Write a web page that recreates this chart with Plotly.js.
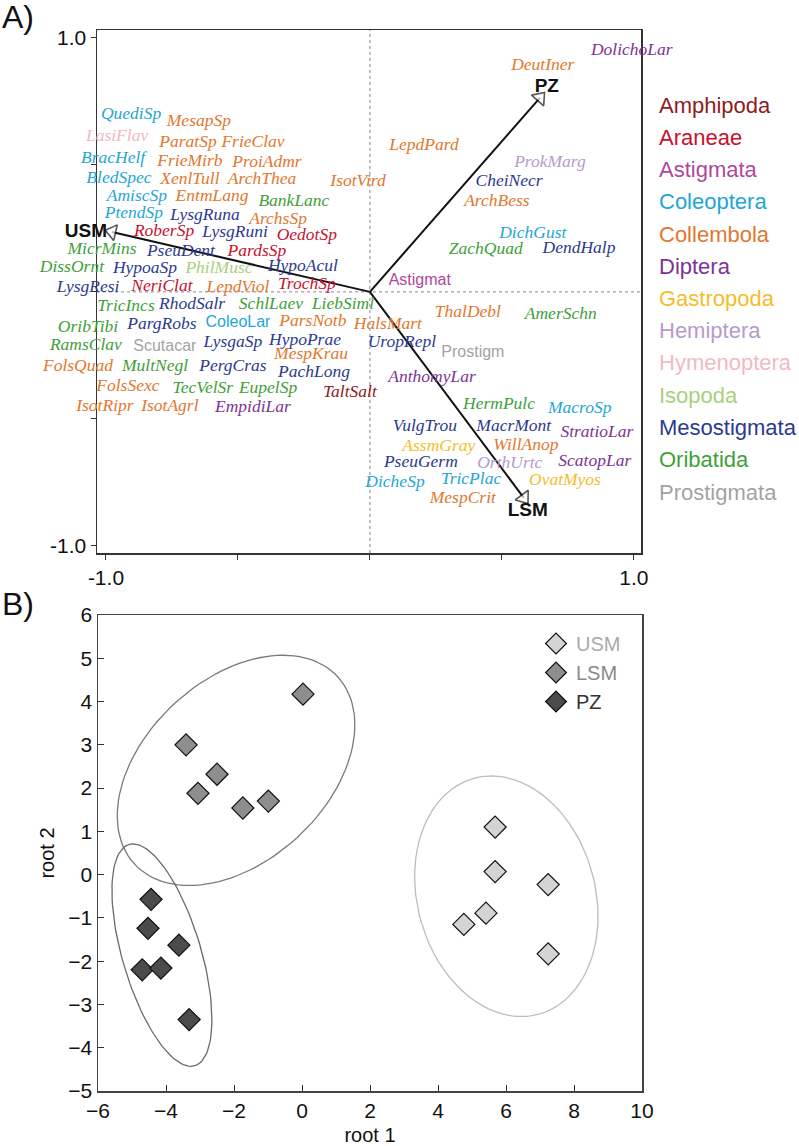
<!DOCTYPE html>
<html>
<head>
<meta charset="utf-8">
<script src="https://cdn.plot.ly/plotly-3.0.1.min.js"></script>
<style>
body { margin: 0; background: #fff; }
#chart { width: 799px; height: 1146px; }
</style>
</head>
<body>
<div id="chart"></div>
<script>
// ---- panel A: taxa (legend on the right) ----
var taxa = ['Amphipoda', 'Araneae', 'Astigmata', 'Coleoptera', 'Collembola', 'Diptera',
    'Gastropoda', 'Hemiptera', 'Hymenoptera', 'Isopoda', 'Mesostigmata', 'Oribatida', 'Prostigmata'];
var taxonColors = ['#8e1b22', '#c8102e', '#b0479a', '#1ea6d6', '#e2772e', '#7d3395',
    '#f4bd2a', '#b49ccb', '#f3b9c3', '#a9d07b', '#2b3a8f', '#3f9f3a', '#a3a3a3'];

// species scores (label centres)
var species = ['QuediSp', 'MesapSp', 'LasiFlav', 'ParatSp', 'FrieClav', 'BracHelf', 'FrieMirb', 'ProiAdmr',
    'BledSpec', 'XenlTull', 'ArchThea', 'IsotVird', 'AmiscSp', 'EntmLang', 'BankLanc', 'PtendSp',
    'LysgRuna', 'ArchsSp', 'RoberSp', 'LysgRuni', 'OedotSp', 'MicrMins', 'PseuDent', 'PardsSp',
    'DissOrnt', 'HypoaSp', 'PhilMusc', 'HypoAcul', 'LysgResi', 'NeriClat', 'LepdViol', 'TrochSp',
    'TricIncs', 'RhodSalr', 'SchlLaev', 'LiebSiml', 'OribTibi', 'PargRobs', 'ColeoLar', 'ParsNotb',
    'HalsMart', 'RamsClav', 'Scutacar', 'LysgaSp', 'HypoPrae', 'MespKrau', 'FolsQuad', 'MultNegl',
    'PergCras', 'PachLong', 'FolsSexc', 'TecVelSr', 'EupelSp', 'TaltSalt', 'IsotRipr', 'IsotAgrl',
    'EmpidiLar', 'DolichoLar', 'DeutIner', 'LepdPard', 'ProkMarg', 'CheiNecr', 'ArchBess', 'DichGust',
    'ZachQuad', 'DendHalp', 'Astigmat', 'ThalDebl', 'AmerSchn', 'UropRepl', 'Prostigm', 'AnthomyLar',
    'HermPulc', 'MacroSp', 'VulgTrou', 'MacrMont', 'StratioLar', 'AssmGray', 'WillAnop', 'PseuGerm',
    'OrthUrtc', 'ScatopLar', 'DicheSp', 'TricPlac', 'OvatMyos', 'MespCrit'];
var speciesTaxon = ['Coleoptera', 'Collembola', 'Hymenoptera', 'Collembola', 'Collembola', 'Coleoptera', 'Collembola', 'Collembola',
    'Coleoptera', 'Collembola', 'Collembola', 'Collembola', 'Coleoptera', 'Collembola', 'Oribatida', 'Coleoptera',
    'Mesostigmata', 'Collembola', 'Araneae', 'Mesostigmata', 'Araneae', 'Oribatida', 'Mesostigmata', 'Araneae',
    'Oribatida', 'Mesostigmata', 'Isopoda', 'Mesostigmata', 'Mesostigmata', 'Araneae', 'Collembola', 'Araneae',
    'Oribatida', 'Mesostigmata', 'Oribatida', 'Oribatida', 'Oribatida', 'Mesostigmata', 'Coleoptera', 'Collembola',
    'Collembola', 'Oribatida', 'Prostigmata', 'Mesostigmata', 'Mesostigmata', 'Collembola', 'Collembola', 'Oribatida',
    'Mesostigmata', 'Mesostigmata', 'Collembola', 'Oribatida', 'Oribatida', 'Amphipoda', 'Collembola', 'Collembola',
    'Diptera', 'Diptera', 'Collembola', 'Collembola', 'Hemiptera', 'Mesostigmata', 'Collembola', 'Coleoptera',
    'Oribatida', 'Mesostigmata', 'Astigmata', 'Collembola', 'Oribatida', 'Mesostigmata', 'Prostigmata', 'Diptera',
    'Oribatida', 'Coleoptera', 'Mesostigmata', 'Mesostigmata', 'Diptera', 'Gastropoda', 'Collembola', 'Mesostigmata',
    'Hemiptera', 'Diptera', 'Coleoptera', 'Coleoptera', 'Gastropoda', 'Collembola'];
var speciesX = [-0.905, -0.648, -0.958, -0.689, -0.443, -0.973, -0.682, -0.390,
    -0.951, -0.682, -0.409, -0.045, -0.883, -0.598, -0.288, -0.894,
    -0.625, -0.348, -0.780, -0.511, -0.239, -1.015, -0.716, -0.428,
    -1.129, -0.852, -0.572, -0.254, -1.068, -0.788, -0.500, -0.239,
    -0.924, -0.674, -0.375, -0.102, -1.068, -0.788, -0.500, -0.216,
    0.068, -1.076, -0.777, -0.519, -0.246, -0.223, -1.106, -0.814,
    -0.519, -0.212, -0.917, -0.633, -0.386, -0.076, -1.004, -0.758,
    -0.443, 0.992, 0.655, 0.205, 0.682, 0.527, 0.481, 0.617,
    0.439, 0.792, 0.189, 0.371, 0.723, 0.121, 0.390, 0.235,
    0.489, 0.795, 0.208, 0.545, 0.860, 0.261, 0.591, 0.193,
    0.530, 0.852, 0.095, 0.383, 0.739, 0.352];
var speciesY = [0.697, 0.669, 0.610, 0.587, 0.587, 0.524, 0.512, 0.508,
    0.445, 0.441, 0.441, 0.433, 0.374, 0.374, 0.354, 0.307,
    0.299, 0.283, 0.236, 0.232, 0.220, 0.165, 0.157, 0.157,
    0.094, 0.091, 0.091, 0.098, 0.016, 0.020, 0.016, 0.028,
    -0.059, -0.051, -0.051, -0.051, -0.142, -0.130, -0.122, -0.118,
    -0.130, -0.213, -0.217, -0.201, -0.193, -0.248, -0.295, -0.295,
    -0.295, -0.319, -0.374, -0.382, -0.382, -0.398, -0.453, -0.453,
    -0.457, 0.949, 0.890, 0.575, 0.508, 0.433, 0.354, 0.228,
    0.165, 0.169, 0.043, -0.083, -0.091, -0.201, -0.240, -0.339,
    -0.445, -0.461, -0.531, -0.531, -0.555, -0.610, -0.606, -0.673,
    -0.677, -0.669, -0.752, -0.740, -0.744, -0.815];
var uprightLabels = ['Astigmat', 'Prostigm', 'Scutacar', 'ColeoLar'];

// environmental vectors
var vectorNames = ['USM', 'PZ', 'LSM'];
var vectorX = [-0.977, 0.644, 0.583];
var vectorY = [0.236, 0.764, -0.811];
var vectorLabelX = [-1.076, 0.670, 0.598];
var vectorLabelY = [0.236, 0.807, -0.862];

// ---- panel B: discriminant scores ----
var groups = ['USM', 'LSM', 'PZ'];
var groupFill = ['#d4d4d4', '#8e8e8e', '#4b4b4b'];
var groupText = ['#aaaaaa', '#8a8a8a', '#333333'];
var usmRoot1 = [5.68, 5.68, 7.24, 5.41, 4.76, 7.24];
var usmRoot2 = [1.10, 0.07, -0.23, -0.89, -1.15, -1.83];
var lsmRoot1 = [0.03, -3.41, -2.50, -3.06, -1.74, -0.99];
var lsmRoot2 = [4.17, 3.00, 2.32, 1.88, 1.54, 1.70];
var pzRoot1 = [-4.44, -4.53, -3.62, -4.70, -4.15, -3.32];
var pzRoot2 = [-0.57, -1.24, -1.63, -2.20, -2.16, -3.35];

// confidence ellipses: centre and two conjugate half-axes
var ellipseCx = [6.01, -1.94, -4.12];
var ellipseCy = [-0.50, 2.41, -1.86];
var ellipseUx = [-0.44, 1.38, -0.85];
var ellipseUy = [2.78, 2.66, 2.57];
var ellipseVx = [2.66, 3.21, 1.20];
var ellipseVy = [0, 0, 0];
var ellipseColor = ['#bdbdbd', '#7a7a7a', '#6a6a6a'];

var W = 799, H = 1146;
var xMinA = -1.034, xMaxA = 1.027;
var axLeftA = 97, axRightA = 641;
// labels axis: same scale as panel A's x axis but reaching the left page edge,
// so that labels left of the frame are not dropped
var xMinLab = xMinA - axLeftA * (xMaxA - xMinA) / (axRightA - axLeftA);

var traces = [];

// arrows
for (var i = 0; i < vectorNames.length; i++) {
    traces.push({
        x: [0, vectorX[i]], y: [0, vectorY[i]],
        xaxis: 'x', yaxis: 'y',
        mode: 'lines+markers', type: 'scatter', showlegend: false, hoverinfo: 'skip',
        line: {color: '#111', width: 2},
        marker: {
            symbol: ['circle', 'triangle-up'], size: [0, 14], angleref: 'previous',
            color: ['rgba(0,0,0,0)', '#ffffff'],
            line: {color: '#111', width: [0, 1.6]}
        },
        cliponaxis: false
    });
}
traces.push({
    x: vectorLabelX, y: vectorLabelY, text: vectorNames.map(function(s) { return '<b>' + s + '</b>'; }),
    xaxis: 'x3', yaxis: 'y', mode: 'text', type: 'scatter', showlegend: false, hoverinfo: 'skip',
    textposition: 'middle center', cliponaxis: false,
    textfont: {family: 'Liberation Sans, Arial', size: 19, color: '#111'}
});

// species labels, one trace per taxon (italic) + upright ones
taxa.forEach(function(t, k) {
    [false, true].forEach(function(up) {
        var xs = [], ys = [], tx = [];
        for (var j = 0; j < species.length; j++) {
            if (speciesTaxon[j] !== t) continue;
            if ((uprightLabels.indexOf(species[j]) >= 0) !== up) continue;
            xs.push(speciesX[j]); ys.push(speciesY[j]); tx.push(species[j]);
        }
        if (!xs.length) return;
        traces.push({
            x: xs, y: ys, text: tx, xaxis: 'x3', yaxis: 'y',
            mode: 'text', type: 'scatter', showlegend: false, hoverinfo: 'skip',
            textposition: 'middle center', cliponaxis: false,
            textfont: up ? {family: 'Liberation Sans, Arial', size: 16, color: taxonColors[k]}
                         : {family: 'Liberation Serif, Times New Roman', size: 17.5, style: 'italic', color: taxonColors[k]}
        });
    });
});

// ellipses
for (var e = 0; e < ellipseCx.length; e++) {
    var ex = [], ey = [];
    for (var s = 0; s <= 120; s++) {
        var a = 2 * Math.PI * s / 120;
        ex.push(ellipseCx[e] + ellipseUx[e] * Math.cos(a) + ellipseVx[e] * Math.sin(a));
        ey.push(ellipseCy[e] + ellipseUy[e] * Math.cos(a) + ellipseVy[e] * Math.sin(a));
    }
    traces.push({
        x: ex, y: ey, xaxis: 'x2', yaxis: 'y2', mode: 'lines', type: 'scatter',
        showlegend: false, hoverinfo: 'skip',
        line: {color: ellipseColor[e], width: 1.3}
    });
}

var root1 = [usmRoot1, lsmRoot1, pzRoot1];
var root2 = [usmRoot2, lsmRoot2, pzRoot2];
groups.forEach(function(g, k) {
    traces.push({
        x: root1[k], y: root2[k], xaxis: 'x2', yaxis: 'y2',
        mode: 'markers', type: 'scatter',
        name: '<span style="color:' + groupText[k] + '">' + g + '</span>',
        marker: {symbol: 'diamond', size: 17, color: groupFill[k], line: {color: '#111', width: 1.2}}
    });
});

var tickFont = {family: 'Liberation Sans, Arial', size: 21, color: '#111'};

var annotations = [
    {text: 'A)', xref: 'paper', yref: 'paper', x: 0, y: 1, xanchor: 'left', yanchor: 'top',
        showarrow: false, font: {family: 'Liberation Sans, Arial', size: 32, color: '#111'}, yshift: 3},
    {text: 'B)', xref: 'paper', yref: 'paper', x: 0, y: 1 - 584 / H, xanchor: 'left', yanchor: 'top',
        showarrow: false, font: {family: 'Liberation Sans, Arial', size: 32, color: '#111'}}
];
taxa.forEach(function(t, k) {
    annotations.push({
        text: t, xref: 'paper', yref: 'paper', x: 657 / W, y: 1 - (105 + 32.25 * k) / H,
        xanchor: 'left', yanchor: 'middle', showarrow: false,
        font: {family: 'Liberation Sans, Arial', size: 22, color: taxonColors[k]}
    });
});

var layout = {
    width: W, height: H,
    margin: {l: 0, r: 0, t: 0, b: 0},
    paper_bgcolor: '#fff', plot_bgcolor: 'rgba(0,0,0,0)',
    showlegend: true,
    legend: {x: 536 / W, y: 1 - 624 / H, xanchor: 'left', yanchor: 'top', bgcolor: 'rgba(0,0,0,0)',
        font: {family: 'Liberation Sans, Arial', size: 20, color: '#333'}, tracegroupgap: 0},
    xaxis: {domain: [axLeftA / W, axRightA / W], anchor: 'y', range: [xMinA, xMaxA],
        tickvals: [-1, -0.5, 0, 0.5, 1], ticktext: ['-1.0', '', '', '', '1.0'],
        ticks: 'outside', ticklen: 5, tickcolor: '#333', showgrid: false, zeroline: false,
        showline: true, mirror: true, linecolor: '#333', linewidth: 1.5, tickfont: tickFont},
    xaxis3: {domain: [0, axRightA / W], anchor: 'y', range: [xMinLab, xMaxA], visible: false,
        showgrid: false, zeroline: false},
    yaxis: {domain: [1 - 553 / H, 1 - 30 / H], anchor: 'x', range: [-1.028, 1.031],
        tickvals: [-1, -0.5, 0, 0.5, 1], ticktext: ['-1.0', '', '', '', '1.0'],
        ticks: 'outside', ticklen: 5, tickcolor: '#333', showgrid: false, zeroline: false,
        showline: true, mirror: true, linecolor: '#333', linewidth: 1.5, tickfont: tickFont},
    xaxis2: {domain: [98 / W, 642 / W], anchor: 'y2', range: [-6, 10], dtick: 2,
        ticks: 'inside', ticklen: 6, tickcolor: '#333', showgrid: false, zeroline: false,
        showline: true, mirror: true, linecolor: '#444', linewidth: 1.5, tickfont: tickFont,
        title: {text: 'root 1', font: {family: 'Liberation Sans, Arial', size: 20, color: '#111'}, standoff: 10}},
    yaxis2: {domain: [1 - 1091 / H, 1 - 615 / H], anchor: 'x2', range: [-5, 6], dtick: 1,
        ticks: 'inside', ticklen: 6, tickcolor: '#333', showgrid: false, zeroline: false,
        showline: true, mirror: true, linecolor: '#444', linewidth: 1.5, tickfont: tickFont,
        title: {text: 'root 2', font: {family: 'Liberation Sans, Arial', size: 20, color: '#111'}, standoff: 8}},
    shapes: [
        {type: 'line', xref: 'x', yref: 'y domain', x0: 0, x1: 0, y0: 0, y1: 1, layer: 'below',
            line: {color: '#888', width: 1, dash: 'dot'}},
        {type: 'line', xref: 'x domain', yref: 'y', x0: 0, x1: 1, y0: 0, y1: 0, layer: 'below',
            line: {color: '#888', width: 1, dash: 'dot'}}
    ],
    annotations: annotations
};

Plotly.newPlot('chart', traces, layout, {displayModeBar: false, staticPlot: true});
</script>
</body>
</html>
